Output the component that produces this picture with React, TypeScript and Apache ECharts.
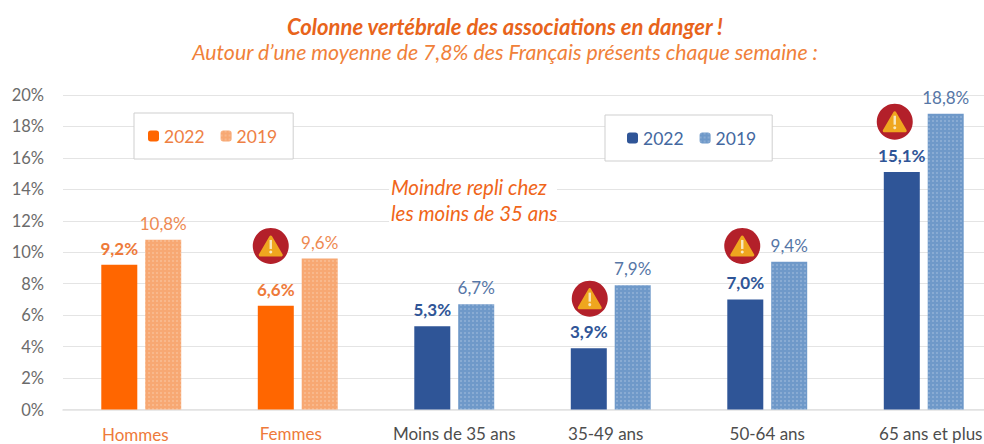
import React, { useEffect, useRef } from "react";
import * as echarts from "echarts";

const categories = ["Hommes", "Femmes", "Moins de 35 ans", "35-49 ans", "50-64 ans", "65 ans et plus"];
const orange2022 = [9.2, 6.6, null, null, null, null];
const orange2019 = [10.8, 9.6, null, null, null, null];
const blue2022 = [null, null, 5.3, 3.9, 7.0, 15.1];
const blue2019 = [null, null, 6.7, 7.9, 9.4, 18.8];
const warnings = [
  [1, 10.4, -27],
  [3, 7.05, -21],
  [4, 10.4, -25],
  [5, 18.3, -29],
];
const labelKeys = ["o1", "o2", "b", "b1", "b", "b2"];
const FONT = "Lato";
const fmt = (p: any) => (p.value == null ? "" : p.value.toFixed(1).replace(".", ",") + "%");

function bar(name: string, stack: string, data: (number | null)[], color: string, labelColor: string, bold: boolean, decal: boolean) {
  return {
    name,
    type: "bar",
    stack,
    data,
    barWidth: 36,
    barGap: "22%",
    itemStyle: {
      color,
      decal: decal
        ? { symbol: "rect", symbolSize: 1, dashArrayX: [[2, 2]], dashArrayY: [2, 2], color: "rgba(255,255,255,0.18)" }
        : "none",
    },
    label: {
      show: true,
      position: "top",
      distance: 8,
      formatter: fmt,
      fontFamily: FONT,
      fontSize: 17,
      fontWeight: bold ? "bold" : "normal",
      color: labelColor,
    },
  };
}

function renderWarning(_: any, api: any) {
  const [x, y] = api.coord([api.value(0), api.value(1)]);
  const cx = x + api.value(2);
  return {
    type: "group",
    children: [
      { type: "circle", shape: { cx, cy: y, r: 18 }, style: { fill: "#B3202A" } },
      {
        type: "polygon",
        shape: { points: [[cx, y - 9], [cx + 10.5, y + 9], [cx - 10.5, y + 9]] },
        style: { fill: "#EFA61F", stroke: "#EFA61F", lineWidth: 3, lineJoin: "round" },
      },
      { type: "rect", shape: { x: cx - 1.2, y: y - 6, width: 2.4, height: 9 }, style: { fill: "#F8E8C0" } },
      { type: "circle", shape: { cx, cy: y + 6, r: 1.5 }, style: { fill: "#F8E8C0" } },
    ],
  };
}

function legend(left: number, top: number, names: string[], color: string, padding: number[]) {
  return {
    left,
    top,
    data: names,
    orient: "horizontal",
    itemWidth: 11,
    itemHeight: 11,
    itemGap: 16,
    padding,
    borderColor: "#CFCFCF",
    borderWidth: 1,
    backgroundColor: "#fff",
    formatter: (n: string) => n.slice(0, 4),
    textStyle: { fontFamily: FONT, fontSize: 17.5, color },
  };
}

const richLabel = (color: string, padding: number[]) => ({ color, fontFamily: FONT, fontSize: 17, padding });

export default function App() {
  const ref = useRef<HTMLDivElement>(null);
  useEffect(() => {
    document.body.style.margin = "0";
    const chart = echarts.init(ref.current!, null, { renderer: "svg" });
    chart.setOption({
      animation: false,
      backgroundColor: "#fff",
      title: {
        left: 500,
        top: 10,
        textAlign: "center",
        text: "Colonne vertébrale des associations en danger !",
        subtext: "Autour d’une moyenne de 7,8% des Français présents chaque semaine :",
        itemGap: 4,
        textStyle: { fontFamily: FONT, fontSize: 22, fontStyle: "italic", fontWeight: "bold", color: "#E8641B" },
        subtextStyle: { fontFamily: FONT, fontSize: 21.3, fontStyle: "italic", color: "#F0813A" },
      },
      legend: [
        legend(134, 113, ["2022 sexe", "2019 sexe"], "#EE8044", [14, 16, 14, 14]),
        legend(605, 115, ["2022 âge", "2019 âge"], "#44689F", [14, 16, 14, 22]),
      ],
      grid: { left: 63, right: 0, top: 95, bottom: 34.5, outerBoundsMode: "none" },
      xAxis: {
        type: "category",
        data: categories,
        axisTick: { show: false },
        axisLine: { lineStyle: { color: "#E2E2E2", width: 1.5 } },
        axisLabel: {
          margin: 15,
          interval: 0,
          fontFamily: FONT,
          fontSize: 17,
          formatter: (v: string, i: number) => `{${labelKeys[i]}|${v}}`,
          rich: {
            o1: richLabel("#EE7A3A", [1, 12, 0, 0]),
            o2: richLabel("#EE7A3A", [0, 14, 0, 0]),
            b: richLabel("#4D4D4D", [0, 0, 0, 0]),
            b1: richLabel("#4D4D4D", [0, 10, 0, 0]),
            b2: richLabel("#4D4D4D", [0, 0, 0, 14]),
          },
        },
      },
      yAxis: {
        type: "value",
        min: 0,
        max: 20,
        interval: 2,
        axisLabel: { margin: 19, fontFamily: FONT, fontSize: 16.5, color: "#6B6B6B", formatter: "{value}%" },
        axisLine: { show: false },
        axisTick: { show: false },
        splitLine: { lineStyle: { color: "#E4E4E4", width: 1.2 } },
      },
      series: [
        bar("2022 sexe", "a", orange2022, "#FF6600", "#EE7A3A", true, false),
        bar("2019 sexe", "b", orange2019, "#F7A873", "#EE8A52", false, true),
        bar("2022 âge", "a", blue2022, "#2F5597", "#2F5597", true, false),
        bar("2019 âge", "b", blue2019, "#6F99C9", "#5676A6", false, true),
        {
          type: "custom",
          data: warnings,
          renderItem: renderWarning,
          encode: { x: 0, y: 1 },
          silent: true,
          z: 10,
        },
      ],
      graphic: [
        {
          type: "rect",
          left: 389,
          top: 176,
          z: 50,
          shape: { width: 168, height: 50 },
          style: { fill: "#fff" },
        },
        {
          type: "text",
          left: 391,
          top: 174,
          z: 51,
          style: {
            text: "Moindre repli chez\nles moins de 35 ans",
            fontFamily: FONT,
            fontSize: 20.5,
            fontStyle: "italic",
            lineHeight: 26,
            fill: "#F0661A",
          },
        },
      ],
    });
    return () => chart.dispose();
  }, []);
  return (
    <div style={{ position: "absolute", left: 0, top: 0, width: 984, height: 444, overflow: "hidden" }}>
      <div ref={ref} style={{ width: 1002, height: 444 }} />
    </div>
  );
}
